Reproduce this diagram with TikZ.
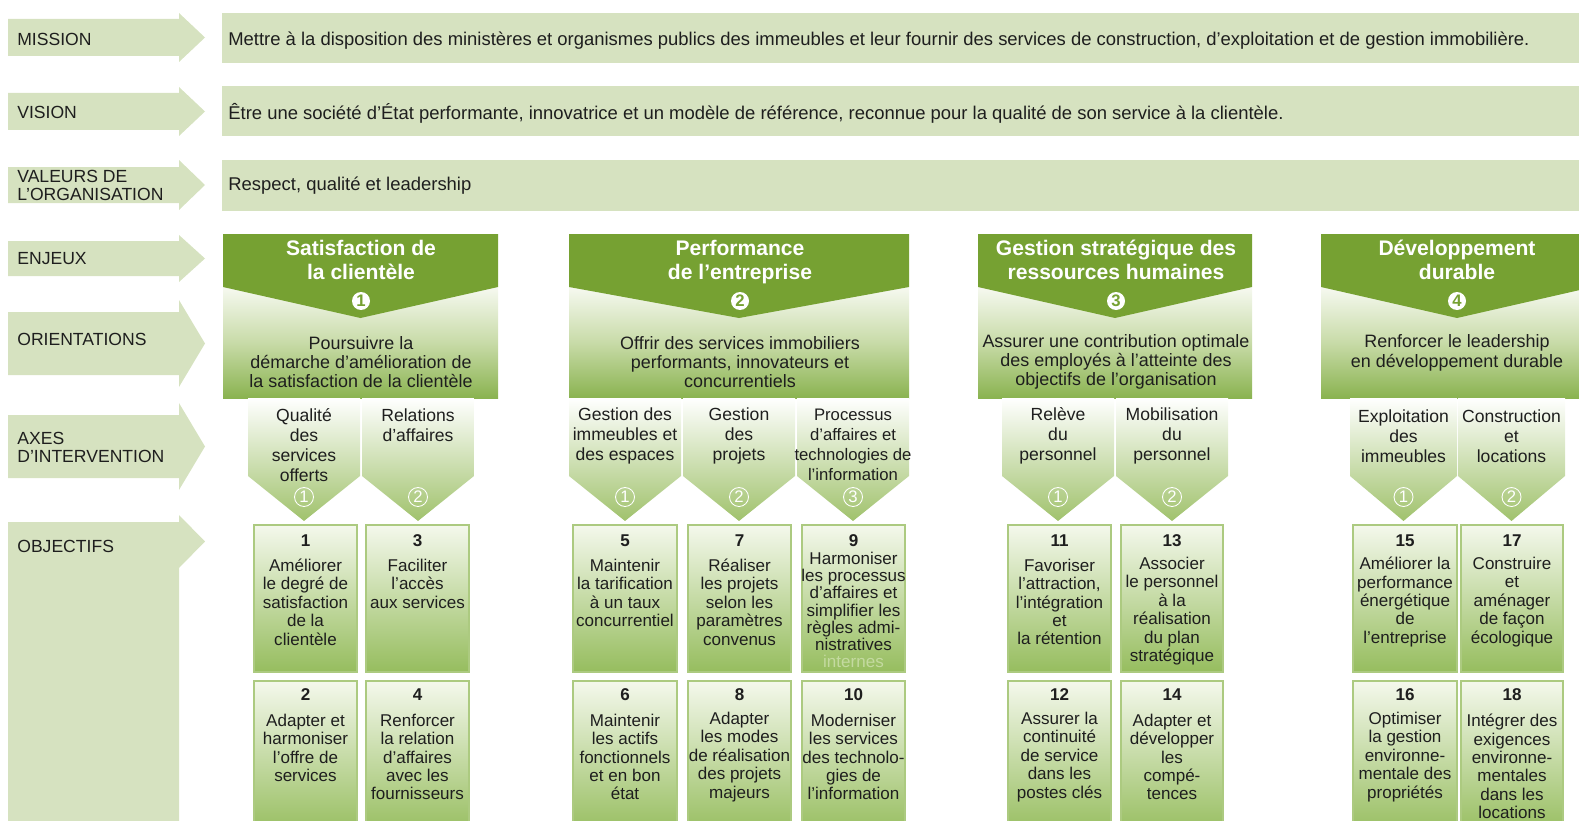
\documentclass[tikz,border=0pt]{standalone}
\usepackage{fontspec}
\setmainfont{Liberation Sans}
\definecolor{labelgreen}{RGB}{214,226,192}
\definecolor{darkgreen}{RGB}{118,161,50}
\definecolor{palegreen}{RGB}{246,249,240}
\definecolor{lightmid}{RGB}{200,219,168}
\definecolor{midgreen}{RGB}{138,179,80}
\definecolor{axegreen}{RGB}{160,194,108}
\definecolor{objtop}{RGB}{244,248,236}
\definecolor{objbottom}{RGB}{150,189,94}
\definecolor{boxline}{RGB}{172,202,128}
\definecolor{faint}{RGB}{196,218,160}
\definecolor{inkblack}{RGB}{30,30,30}

\begin{document}
\begin{tikzpicture}
    [x=0.02cm,y=-0.02cm,every node/.style={inner sep=0pt, text=inkblack},
    labeltext/.style={anchor=west, align=left, font=\fontsize{10}{10.2}\selectfont},
    bartext/.style={anchor=west, font=\fontsize{10.5}{12}\selectfont},
    titletext/.style={align=center, text=white, font=\bfseries\fontsize{12}{13.6}\selectfont},
    orienttext/.style={align=center, font=\fontsize{10.2}{11}\selectfont},
    axetext/.style={align=center, font=\fontsize{10}{11.3}\selectfont},
    objnum/.style={font=\bfseries\fontsize{9.7}{10}\selectfont},
    objtext/.style={align=center, font=\fontsize{9.7}{10.5}\selectfont},
    bignum/.style={circle, fill=white, minimum size=0.36cm, text=darkgreen, font=\bfseries\fontsize{9.5}{10}\selectfont},
    smallnum/.style={circle, draw=white, line width=0.5pt, minimum size=0.38cm, text=white, font=\fontsize{9.5}{10}\selectfont}]
    \path[use as bounding box] (0,0) rectangle (1579,821);
    \clip (0,0) rectangle (1579,821);

    \foreach \rt/\rb/\ht/\hb in {19/56/13/62, 93/130/87/136, 167/203/160/210, 241/276/235/282,
      312/375/300/387, 415/478/403/490, 522/830/515/568}
    \fill[labelgreen] (8,\rt) -- (179,\rt) -- (179,\ht) -- (205,{(\ht+\hb)/2}) -- (179,\hb) -- (179,\rb) -- (8,\rb) -- cycle;

    \foreach \yt/\yb in {13/63, 86/136, 160/211}
    \fill[labelgreen] (222,\yt) rectangle (1579,\yb);

    \foreach \xl/\xr in {223/498, 569/909, 978/1252, 1321/1593} {
      \shade[top color=palegreen, bottom color=midgreen, middle color=lightmid] (\xl,287) rectangle (\xr,398);
      \fill[darkgreen] (\xl,234) -- (\xr,234) -- (\xr,287) -- ({(\xl+\xr)/2},318) -- (\xl,287) -- cycle;
    }

    \foreach \xl/\xr/\k/\id in {248/360/1/n11, 362/474/2/n12, 569/681/1/n21, 683/795/2/n22, 797/909/3/n23,
      1002/1114/1/n31, 1116/1228/2/n32, 1350/1457/1/n41, 1458/1565/2/n42} {
      \shade[top color=white, bottom color=axegreen] (\xl,398) -- (\xr,398) -- (\xr,476) -- ({(\xl+\xr)/2},521) -- (\xl,476) -- cycle;
      \node[smallnum] (\id) at ({(\xl+\xr)/2},497) {\k};
    }

    \foreach \xl/\xr in {254/357, 366/469, 573/677, 688/791, 802/905, 1008/1111, 1121/1223, 1353/1457, 1461/1563} {
      \shadedraw[draw=boxline, line width=0.6pt, top color=objtop, bottom color=objbottom] (\xl,525) rectangle (\xr,672);
      \shadedraw[draw=boxline, line width=0.6pt, top color=objtop, bottom color=objbottom] (\xl,681) rectangle (\xr,835);
    }

    \node[labeltext] (mission) at (17,39) {MISSION};
    \node[labeltext] (vision) at (17,112) {VISION};
    \node[labeltext] (valeurs) at (17,185) {VALEURS DE\\L’ORGANISATION};
    \node[labeltext] (enjeux) at (17,259) {ENJEUX};
    \node[labeltext] (orientations) at (17,339) {ORIENTATIONS};
    \node[labeltext] (axes) at (17,447) {AXES\\D’INTERVENTION};
    \node[labeltext] (objectifs) at (17,546) {OBJECTIFS};

    \node[bartext] (missiontxt) at (228,41) {Mettre à la disposition des ministères et organismes publics des immeubles et leur fournir des services de construction, d’exploitation et de gestion immobilière.};
    \node[bartext] (visiontxt) at (228,113) {Être une société d’État performante, innovatrice et un modèle de référence, reconnue pour la qualité de son service à la clientèle.};
    \node[bartext] (valeurstxt) at (228,186) {Respect, qualité et leadership};

    \node[titletext] (e1) at (361,260) {Satisfaction de\\la clientèle};
    \node[titletext] (e2) at (740,262) {Performance\\de l’entreprise};
    \node[titletext] (e3) at (1116,260) {Gestion stratégique des\\ressources humaines};
    \node[titletext] (e4) at (1457,260) {Développement\\durable};
    \node[bignum] (b1) at (361,301) {1};
    \node[bignum] (b2) at (740,301) {2};
    \node[bignum] (b3) at (1116,301) {3};
    \node[bignum] (b4) at (1457,301) {4};
    \node[orienttext] (o1) at (361,362) {Poursuivre la\\démarche d’amélioration de\\la satisfaction de la clientèle};
    \node[orienttext] (o2) at (740,362) {Offrir des services immobiliers\\performants, innovateurs et\\concurrentiels};
    \node[orienttext] (o3) at (1116,362) {Assurer une contribution optimale\\des employés à l’atteinte des\\objectifs de l’organisation};
    \node[orienttext] (o4) at (1457,353) {Renforcer le leadership\\en développement durable};

    \node[axetext] (a11) at (304,445) {Qualité\\des\\services\\offerts};
    \node[axetext] (a12) at (418,425) {Relations\\d’affaires};
    \node[axetext] (a21) at (625,436) {Gestion des\\immeubles et\\des espaces};
    \node[axetext] (a22) at (739,436) {Gestion\\des\\projets};
    \node[axetext, font=\fontsize{9.5}{11.3}\selectfont] (a23) at (853,445) {Processus\\d’affaires et\\technologies de\\l’information};
    \node[axetext] (a31) at (1058,436) {Relève\\du\\personnel};
    \node[axetext] (a32) at (1172,436) {Mobilisation\\du\\personnel};
    \node[axetext] (a41) at (1403.5,436) {Exploitation\\des\\immeubles};
    \node[axetext] (a42) at (1511.5,436) {Construction\\et\\locations};

    \node[objnum] (num1) at (305.5,541) {1};
    \node[objtext] (obj1) at (305.5,602) {Améliorer\\le degré de\\satisfaction\\de la\\clientèle};
    \node[objnum] (num3) at (417.5,541) {3};
    \node[objtext] (obj3) at (417.5,583.5) {Faciliter\\l’accès\\aux services};
    \node[objnum] (num2) at (305.5,695) {2};
    \node[objtext] (obj2) at (305.5,748) {Adapter et\\harmoniser\\l’offre de\\services};
    \node[objnum] (num4) at (417.5,695) {4};
    \node[objtext] (obj4) at (417.5,757) {Renforcer\\la relation\\d’affaires\\avec les\\fournisseurs};

    \node[objnum] (num5) at (625,541) {5};
    \node[objtext] (obj5) at (625,593) {Maintenir\\la tarification\\à un taux\\concurrentiel};
    \node[objnum] (num7) at (739.5,541) {7};
    \node[objtext] (obj7) at (739.5,602) {Réaliser\\les projets\\selon les\\paramètres\\convenus};
    \node[objnum] (num9) at (853.5,541) {9};
    \node[objtext, font=\fontsize{9.7}{9.8}\selectfont] (obj9) at (853.5,610) {Harmoniser\\les processus\\d'affaires et\\simplifier les\\règles admi-\\nistratives\\\textcolor{faint}{internes}};
    \node[objnum] (num6) at (625,695) {6};
    \node[objtext] (obj6) at (625,757) {Maintenir\\les actifs\\fonctionnels\\et en bon\\état};
    \node[objnum] (num8) at (739.5,695) {8};
    \node[objtext] (obj8) at (739.5,757) {Adapter\\les modes\\de réalisation\\des projets\\majeurs};
    \node[objnum] (num10) at (853.5,695) {10};
    \node[objtext] (obj10) at (853.5,757) {Moderniser\\les services\\des technolo-\\gies de\\l’information};

    \node[objnum] (num11) at (1059.5,541) {11};
    \node[objtext] (obj11) at (1059.5,602) {Favoriser\\l’attraction,\\l’intégration\\et\\la rétention};
    \node[objnum] (num13) at (1172,541) {13};
    \node[objtext] (obj13) at (1172,611) {Associer\\le personnel\\à la\\réalisation\\du plan\\stratégique};
    \node[objnum] (num12) at (1059.5,695) {12};
    \node[objtext] (obj12) at (1059.5,757) {Assurer la\\continuité\\de service\\dans les\\postes clés};
    \node[objnum] (num14) at (1172,695) {14};
    \node[objtext] (obj14) at (1172,757) {Adapter et\\développer\\les\\compé-\\tences};

    \node[objnum] (num15) at (1405,541) {15};
    \node[objtext] (obj15) at (1405,602) {Améliorer la\\performance\\énergétique\\de\\l’entreprise};
    \node[objnum] (num17) at (1512,541) {17};
    \node[objtext] (obj17) at (1512,602) {Construire\\et\\aménager\\de façon\\écologique};
    \node[objnum] (num16) at (1405,695) {16};
    \node[objtext] (obj16) at (1405,757) {Optimiser\\la gestion\\environne-\\mentale des\\propriétés};
    \node[objnum] (num18) at (1512,695) {18};
    \node[objtext] (obj18) at (1512,766.5) {Intégrer des\\exigences\\environne-\\mentales\\dans les\\locations};
  \end{tikzpicture}
\end{document}
